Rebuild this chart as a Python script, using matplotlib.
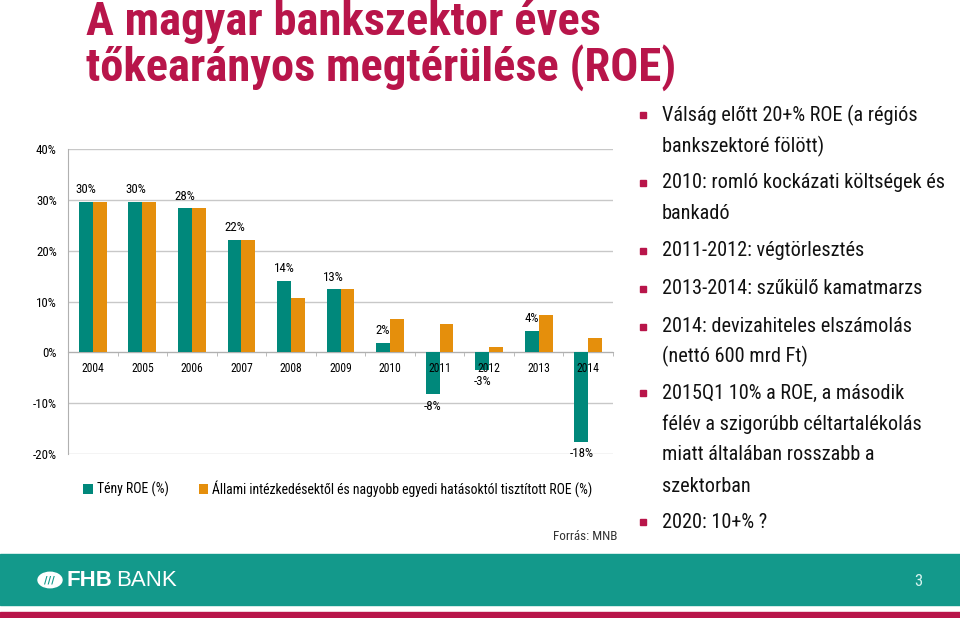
import matplotlib
matplotlib.use("Agg")
import matplotlib.pyplot as plt
from matplotlib.patches import Rectangle, Circle
from matplotlib import font_manager
import numpy as np

# ----- data ------------------------------------------------------------------
years = ["2004", "2005", "2006", "2007", "2008", "2009", "2010", "2011", "2012", "2013", "2014"]
roe_actual = [29.6, 29.6, 28.3, 22.1, 14.1, 12.4, 1.9, -8.2, -3.4, 4.2, -17.6]
roe_adjusted = [29.6, 29.6, 28.3, 22.1, 10.7, 12.4, 6.6, 5.6, 1.0, 7.4, 2.8]
actual_labels = ["30%", "30%", "28%", "22%", "14%", "13%", "2%", "-8%", "-3%", "4%", "-18%"]
series_names = ["Tény ROE (%)",
                "Állami intézkedésektől és nagyobb egyedi hatásoktól tisztított ROE (%)"]
yticks = [-20, -10, 0, 10, 20, 30, 40]

title_lines = ["A magyar bankszektor éves", "tőkearányos megtérülése (ROE)"]
bullets = [
    ["Válság előtt 20+% ROE (a régiós", "bankszektoré fölött)"],
    ["2010: romló kockázati költségek és", "bankadó"],
    ["2011-2012: végtörlesztés"],
    ["2013-2014: szűkülő kamatmarzs"],
    ["2014: devizahiteles elszámolás", "(nettó 600 mrd Ft)"],
    ["2015Q1 10% a ROE, a második", "félév a szigorúbb céltartalékolás",
     "miatt általában rosszabb a", "szektorban"],
    ["2020: 10+% ?"],
]
source = "Forrás: MNB"
page_no = "3"

TEAL = "#00887b"
ORANGE = "#e58f0c"
CRIMSON = "#b8154a"
BAND = "#13998b"

# narrow sans if one is installed, else plain Liberation Sans with fitted sizes
names = {f.name for f in font_manager.fontManager.ttflist}
NARROW = "Liberation Sans"
for cand in ["Liberation Sans Narrow", "Roboto Condensed", "Open Sans Condensed"]:
    if cand in names:
        NARROW = cand
        break
plt.rcParams["font.family"] = [NARROW, "DejaVu Sans"]

W, H = 960, 618
fig = plt.figure(figsize=(W / 100, H / 100), dpi=100)
renderer = fig.canvas.get_renderer()


def fx(px):
    return px / W


def fy(py):
    return 1 - py / H


def fit_size(text, target_px, weight="normal", base=20.0):
    t = fig.text(0, 0, text, fontsize=base, fontweight=weight)
    w = t.get_window_extent(renderer).width
    t.remove()
    return base * target_px / w


small = fit_size("2004", 23)
lab_size = fit_size("30%", 21)
leg_size = fit_size(series_names[1], 381)

# ----- chart -----------------------------------------------------------------
ax = fig.add_axes([fx(68), fy(454), fx(613) - fx(68), fy(149) - fy(454)])
x = np.arange(len(years))
bw = 0.28
ax.bar(x - bw / 2, roe_actual, bw, color=TEAL, label=series_names[0], zorder=3)
ax.bar(x + bw / 2, roe_adjusted, bw, color=ORANGE, label=series_names[1], zorder=3)

for xi, v, lab in zip(x, roe_actual, actual_labels):
    if v >= 0:
        ax.annotate(lab, (xi - bw / 2, v), xytext=(0, 4), textcoords="offset points",
                    ha="center", va="bottom", fontsize=lab_size)
    else:
        ax.annotate(lab, (xi - bw / 2, v), xytext=(0, -4), textcoords="offset points",
                    ha="center", va="top", fontsize=lab_size)

# year labels sit just under the zero line, drawn over the bars
for xi, yr in zip(x, years):
    ax.annotate(yr, (xi, 0), xytext=(0, -7), textcoords="offset points",
                ha="center", va="top", fontsize=small, zorder=6)

ax.set_xlim(-0.5, len(years) - 0.5)
ax.set_ylim(-20, 40)
ax.set_yticks(yticks)
ax.set_yticklabels([f"{t}%" for t in yticks], fontsize=lab_size)
ax.grid(axis="y", color="#c8c8c8", linewidth=1, zorder=0)
for s in ["top", "right"]:
    ax.spines[s].set_visible(False)
ax.spines["left"].set_color("#b0b0b0")
ax.spines["bottom"].set_position(("data", 0))
ax.spines["bottom"].set_color("#b0b0b0")
ax.tick_params(axis="y", length=0, pad=8)
ax.set_xticks([])
ax.set_xticks(np.arange(len(years) + 1) - 0.5, minor=True)
ax.tick_params(axis="x", which="minor", length=3, color="#b0b0b0")

ax.legend(loc="upper left", bbox_to_anchor=((83 - 68 - 2) / 545, -0.08), ncol=2,
          frameon=False, fontsize=leg_size, handlelength=0.7, handleheight=0.7,
          handletextpad=0.3, columnspacing=30 * 0.72 / leg_size,
          borderaxespad=0.0, borderpad=0.15)

fig.text(fx(617), fy(537), source, ha="right", va="center",
         fontsize=fit_size(source, 64), color="#333333")

# ----- title -----------------------------------------------------------------
tsize = fit_size(title_lines[1], 590, weight="bold")
fig.text(fx(86), fy(35), title_lines[0], ha="left", va="baseline", fontsize=tsize,
         fontweight="bold", color=CRIMSON)
fig.text(fx(86), fy(81), title_lines[1], ha="left", va="baseline", fontsize=tsize,
         fontweight="bold", color=CRIMSON)

# ----- bullets ---------------------------------------------------------------
bsize = fit_size("2010: romló kockázati költségek és", 283)
line_ys = [[115, 146], [183, 213], [251], [289], [327, 356], [393, 424, 455, 486], [522]]
for lines, ys in zip(bullets, line_ys):
    fig.patches.append(Rectangle((fx(640), fy(ys[0] + 3)), fx(6), fy(0) - fy(6),
                                 transform=fig.transFigure, color=CRIMSON))
    for t, yy in zip(lines, ys):
        fig.text(fx(662), fy(yy), t, ha="left", va="center", fontsize=bsize, color="#111111")

# ----- footer band -----------------------------------------------------------
fig.patches.append(Rectangle((0, fy(605)), 1, fy(554) - fy(605),
                             transform=fig.transFigure, color=BAND))
fig.patches.append(Rectangle((0, 0), 1, fy(612),
                             transform=fig.transFigure, color=CRIMSON))
fig.patches.append(Circle((fx(50), fy(580)), fx(12), transform=fig.transFigure,
                          color="white"))
fig.text(fx(49), fy(580), "///", ha="center", va="center", fontsize=8,
         fontweight="bold", color=BAND)
fig.text(fx(67), fy(580), "FHB", ha="left", va="center", fontsize=16,
         fontweight="bold", color="white", family="Liberation Sans")
fig.text(fx(116), fy(580), "BANK", ha="left", va="center", fontsize=16,
         color="white", family="Liberation Sans")
fig.text(fx(918), fy(582), page_no, ha="center", va="center", fontsize=12,
         color="#d8f4f0")

fig.savefig("out.png", dpi=100)
